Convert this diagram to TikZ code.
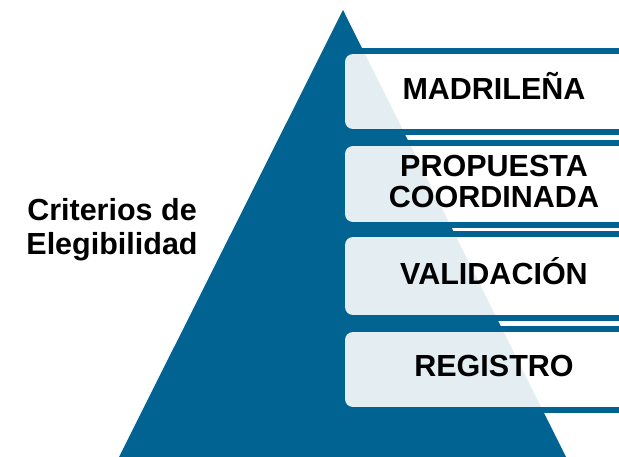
\documentclass[tikz,border=0pt]{standalone}
\usepackage{fontspec}
\setmainfont{Liberation Sans}
\definecolor{pyrblue}{RGB}{0,99,145}

\begin{document}
\begin{tikzpicture}
	[x=1pt, y=-1pt,
	stagebox/.style={rectangle, rounded corners=8pt, fill=white, fill opacity=0.89, minimum width=298pt, inner sep=0pt},
	stagetext/.style={font=\fontsize{30.5}{31}\selectfont\bfseries, align=center, text=black, inner sep=0pt},
	band/.style={fill=pyrblue}]
	\useasboundingbox (0,0) rectangle (619,457);
	\clip (0,0) rectangle (619,457);
	\fill[pyrblue] (119,457) -- (343,10) -- (566,457) -- cycle;
	\node[stagebox, minimum height=75pt] (madr) at (494,91.5) {};
	\node[stagebox, minimum height=76pt] (prop) at (494,184) {};
	\node[stagebox, minimum height=78pt] (vali) at (494,276) {};
	\node[stagebox, minimum height=75pt] (regi) at (494,369.5) {};
	\fill[band] (madr.north west) rectangle ([yshift=6pt]madr.north east);
	\fill[band] (madr.south west) rectangle ([yshift=-6pt]madr.south east);
	\fill[band] (prop.north west) rectangle ([yshift=6pt]prop.north east);
	\fill[band] (prop.south west) rectangle ([yshift=-6pt]prop.south east);
	\fill[band] (vali.north west) rectangle ([yshift=6pt]vali.north east);
	\fill[band] (vali.south west) rectangle ([yshift=-6pt]vali.south east);
	\fill[band] (regi.north west) rectangle ([yshift=6pt]regi.north east);
	\fill[band] (regi.south west) rectangle ([yshift=-6pt]regi.south east);
	\node[stagetext, anchor=base] (madrt) at (494,100) {MADRILEÑA};
	\node[stagetext] (propt) at (494,182) {PROPUESTA\\COORDINADA};
	\node[stagetext, anchor=base] (valit) at (494,285) {VALIDACIÓN};
	\node[stagetext, anchor=base] (regit) at (494,376) {REGISTRO};
	\node[stagetext, font=\fontsize{30.5}{34}\selectfont\bfseries] (crit) at (112,230) {Criterios de\\Elegibilidad};
\end{tikzpicture}
\end{document}
